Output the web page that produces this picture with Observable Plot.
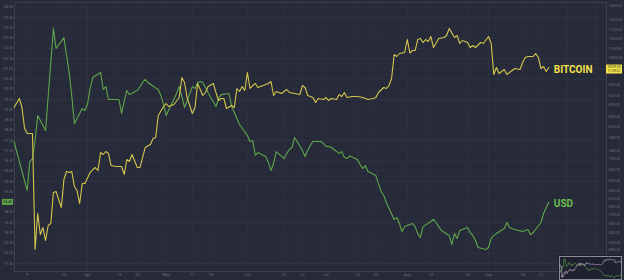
<!DOCTYPE html>
<html><head><meta charset="utf-8">
<script src="https://cdn.jsdelivr.net/npm/d3@7"></script>
<script src="https://cdn.jsdelivr.net/npm/@observablehq/plot@0.6"></script>
<style>
html,body{margin:0;padding:0;background:#272a38;}
#wrap{position:relative;width:624px;height:280px;overflow:hidden;background:#272a38;}
#mini{position:absolute;left:558px;top:255px;width:64px;height:25px;}
</style>
</head><body><div id="wrap"><div id="main"></div><div id="mini"></div></div>
<script>
// ---- data (2020) ----
const usdDays = ["03-04","03-05","03-06","03-09","03-10","03-11","03-12","03-13","03-16","03-17","03-18","03-19","03-20","03-23","03-24","03-25","03-26","03-27","03-30","03-31","04-01","04-02","04-03","04-06","04-07","04-08","04-09","04-13","04-14","04-15","04-16","04-17","04-20","04-21","04-22","04-23","04-24","04-27","04-28","04-29","04-30","05-01","05-04","05-05","05-06","05-07","05-08","05-11","05-12","05-13","05-14","05-15","05-18","05-19","05-20","05-21","05-22","05-25","05-26","05-27","05-28","05-29","06-01","06-02","06-03","06-04","06-05","06-08","06-09","06-10","06-11","06-12","06-15","06-16","06-17","06-18","06-19","06-22","06-23","06-24","06-25","06-26","06-29","06-30","07-01","07-02","07-03","07-06","07-07","07-08","07-09","07-10","07-13","07-14","07-15","07-16","07-17","07-20","07-21","07-22","07-23","07-24","07-27","07-28","07-29","07-30","07-31","08-03","08-04","08-05","08-06","08-07","08-10","08-11","08-12","08-13","08-14","08-17","08-18","08-19","08-20","08-21","08-24","08-25","08-26","08-27","08-28","08-31","09-01","09-02","09-03","09-04","09-07","09-08","09-09","09-10","09-11","09-14","09-15","09-16","09-17","09-18","09-21","09-22","09-23","09-24"];
const usdValues = [97.45,96.96,96.48,95.06,96.48,96.62,97.50,98.72,97.99,99.66,101.29,102.96,101.99,102.52,101.67,100.82,99.67,98.33,99.06,98.96,99.28,100.03,100.57,100.82,99.99,100.13,99.50,99.50,98.82,99.42,99.94,99.74,99.94,100.12,100.33,100.48,100.33,100.06,99.99,99.70,99.26,98.72,99.53,99.81,100.13,99.65,99.11,100.13,100.04,100.33,100.38,100.33,99.60,99.40,99.16,99.55,99.74,99.79,99.16,98.87,98.57,98.28,97.74,97.45,97.50,96.77,96.91,96.72,96.43,96.04,96.38,96.96,96.62,96.87,97.06,97.16,97.65,97.01,96.72,97.01,97.26,97.45,97.45,97.35,97.21,97.21,97.16,96.87,96.96,96.67,96.62,96.74,96.57,96.33,96.13,96.28,95.99,95.79,95.40,95.01,94.82,94.48,93.65,93.74,93.45,93.06,93.30,93.45,93.30,92.96,92.77,93.30,93.55,93.65,93.50,93.30,93.11,92.87,92.43,92.96,92.72,93.11,93.26,93.01,92.87,92.62,92.28,92.18,92.28,92.72,92.87,92.96,93.21,93.50,93.26,93.21,93.16,93.06,93.11,93.16,92.91,93.01,93.50,93.94,94.23,94.48];

const btcDays = ["03-04","03-06","03-07","03-08","03-09","03-11","03-12","03-13","03-14","03-15","03-16","03-17","03-18","03-19","03-20","03-22","03-23","03-24","03-25","03-26","03-27","03-28","03-29","03-30","03-31","04-02","04-03","04-04","04-05","04-06","04-07","04-08","04-09","04-10","04-12","04-14","04-15","04-16","04-17","04-18","04-20","04-21","04-23","04-25","04-26","04-27","04-28","04-30","05-01","05-02","05-04","05-06","05-07","05-08","05-09","05-11","05-12","05-13","05-15","05-16","05-17","05-19","05-20","05-21","05-22","05-23","05-24","05-26","05-27","05-28","05-29","05-30","05-31","06-01","06-02","06-03","06-04","06-05","06-07","06-09","06-10","06-11","06-12","06-14","06-16","06-17","06-19","06-21","06-22","06-23","06-24","06-26","06-27","06-28","06-30","07-01","07-02","07-03","07-05","07-06","07-07","07-08","07-09","07-11","07-13","07-15","07-17","07-19","07-20","07-21","07-23","07-24","07-25","07-26","07-27","07-28","07-29","07-31","08-01","08-02","08-03","08-04","08-05","08-06","08-07","08-08","08-09","08-10","08-11","08-13","08-15","08-16","08-17","08-19","08-20","08-21","08-22","08-24","08-25","08-26","08-27","08-29","08-30","09-01","09-02","09-03","09-04","09-05","09-07","09-08","09-09","09-11","09-13","09-14","09-15","09-16","09-18","09-19","09-20","09-21","09-22","09-23","09-24"];
const btcValues = [8823,9150,8823,8103,7941,7941,4965,5744,5276,5428,5149,5472,5517,6254,6280,5885,6592,6809,6781,6809,6408,6304,5981,6486,6486,6781,6864,6919,6837,7353,7294,7383,7324,6976,6948,6948,6727,7148,7090,7294,6919,6919,7503,7595,7782,7813,8541,8858,8967,8858,8930,9187,9962,9762,9187,8611,8823,9723,9262,9375,9606,9723,9375,9076,9150,9150,8787,8895,8823,9528,9413,9606,9451,10166,9528,9644,9723,9567,9644,9723,9802,9262,9413,9337,9490,9375,9337,9299,9644,9567,9262,9187,9003,9150,9113,9187,9076,9150,9113,9299,9224,9375,9187,9224,9224,9187,9113,9150,9187,9375,9567,9528,9644,9921,10934,10846,10979,11023,11620,11000,11113,11113,11620,11666,11478,11620,11525,11761,11249,11666,11714,11809,12148,11714,11809,11432,11572,11478,11249,11340,11249,11478,11432,11761,11432,10084,10373,10125,10290,10084,10166,10332,10290,10586,10802,10846,10846,10979,10802,10332,10415,10207,10373];

const timeTicks = ["03-09","03-23","04-01","04-13","04-20","05-01","05-11","05-18","06-01","06-15","06-22","07-01","07-13","07-20","08-01","08-10","08-24","09-01","09-14","09-21","10-01","10-12"];
const timeLabels = ["9","23","Apr","13","20","May","11","18","Jun","15","22","Jul","13","20","Aug","10","24","Sep","14","21","Oct","12"];
const usdTicks = [104,103.5,103,102.5,102,101.5,101,100.5,100,99.5,99,98.5,98,97.5,97,96.5,96,95.5,95,94.5,94,93.5,93,92.5,92,91.5];
const btcTicks = [13300,12600,12100,11650,11200,10800,9650,9250,8900,8500,8150,7800,7400,7150,6850,6550,6300,6100,5900,5700,5500,5300,5100,4950];

// ---- build ----
const day = s => new Date("2020-" + s + "T00:00:00Z");
const usd = usdDays.map((d, i) => ({date: day(d), value: usdValues[i]}));
// BTC sits on its own (log) price scale, overlaid on the USD scale
const usdDomain = [91.11, 104.232];
const btcOnUsd = d3.scaleLog().domain([4542, 13497]).range(usdDomain);
const btc = btcDays.map((d, i) => ({date: day(d), value: btcValues[i], y: btcOnUsd(btcValues[i])}));
const lastUsd = usd[usd.length - 1];
const lastBtc = btc[btc.length - 1];
const axisFill = "#6d707c";
const GREEN = "#5fa64a", YELLOW = "#d4c64c";

const chart = Plot.plot({
  width: 624, height: 280,
  marginTop: 2, marginRight: 18, marginBottom: 9, marginLeft: 14,
  style: {background: "#272a38", fontFamily: "Roboto, sans-serif", overflow: "visible"},
  x: {type: "utc", domain: [new Date("2020-03-04T03:33:00Z"), new Date("2020-10-16T00:00:00Z")], axis: null},
  y: {domain: usdDomain, axis: null},
  marks: [
    Plot.ruleY(usdTicks, {stroke: "#2e3141", strokeWidth: 1}),
    Plot.ruleX(timeTicks.map(day), {stroke: "#2e3141", strokeWidth: 1}),
    Plot.frame({stroke: "#3b3e4c"}),
    Plot.line(usd, {x: "date", y: "value", stroke: GREEN, strokeWidth: 1.1}),
    Plot.line(btc, {x: "date", y: "y", stroke: YELLOW, strokeWidth: 1.1}),
    Plot.text(usdTicks, {y: d => d, text: d => d.toFixed(2), frameAnchor: "left", dx: -1.5, textAnchor: "end", fontSize: 3.4, fill: axisFill}),
    Plot.text(btcTicks, {y: d => btcOnUsd(d), text: d => d.toFixed(2), frameAnchor: "right", dx: 2, textAnchor: "start", fontSize: 3.2, fill: axisFill}),
    Plot.text(timeTicks, {x: d => day(d), text: (d, i) => timeLabels[i], frameAnchor: "bottom", dy: 4.5, fontSize: 4, fill: axisFill}),
    Plot.text([lastBtc], {x: "date", y: "y", text: () => "BITCOIN", dx: 5, dy: 2, textAnchor: "start", fontSize: 10, fontWeight: 700, fill: "#f3e24b"}),
    Plot.text([lastUsd], {x: "date", y: "value", text: () => "USD", dx: 5, dy: 1, textAnchor: "start", fontSize: 10, fontWeight: 700, fill: "#6cbf4f"})
  ]
});
document.getElementById("main").appendChild(chart);

// current-value tags on the two price scales
const ys = chart.scale("y");
const svg = d3.select(chart);
const yu = ys.apply(lastUsd.value);
svg.append("rect").attr("x", 2).attr("y", yu - 3).attr("width", 11).attr("height", 6).attr("fill", GREEN);
svg.append("text").attr("x", 7.5).attr("y", yu + 1.2).attr("text-anchor", "middle").attr("font-size", 3.4)
  .attr("font-family", "Roboto, sans-serif").attr("fill", "#1d2a18").text(lastUsd.value.toFixed(2));
const yb = ys.apply(lastBtc.y) + 2;
svg.append("rect").attr("x", 606).attr("y", yb - 4.5).attr("width", 16).attr("height", 9).attr("fill", "#f3e24b");
svg.append("text").attr("x", 614).attr("y", yb - 0.6).attr("text-anchor", "middle").attr("font-size", 3.2)
  .attr("font-family", "Roboto, sans-serif").attr("fill", "#2a2a1a").text(lastBtc.value.toFixed(2));
svg.append("text").attr("x", 614).attr("y", yb + 3.2).attr("text-anchor", "middle").attr("font-size", 3.2)
  .attr("font-family", "Roboto, sans-serif").attr("fill", "#2a2a1a").text("11:39:22");

// mini navigator in the corner
const mini = Plot.plot({
  width: 64, height: 25, margin: 1,
  style: {background: "#1f2130", overflow: "hidden"},
  x: {type: "utc", axis: null},
  y: {domain: usdDomain, axis: null},
  marks: [
    Plot.frame({stroke: "#8a8d97"}),
    Plot.line(usd, {x: "date", y: "value", stroke: GREEN, strokeWidth: 0.6}),
    Plot.line(btc, {x: "date", y: "y", stroke: "#b7a9c9", strokeWidth: 0.6})
  ]
});
document.getElementById("mini").appendChild(mini);
</script>
</body></html>
